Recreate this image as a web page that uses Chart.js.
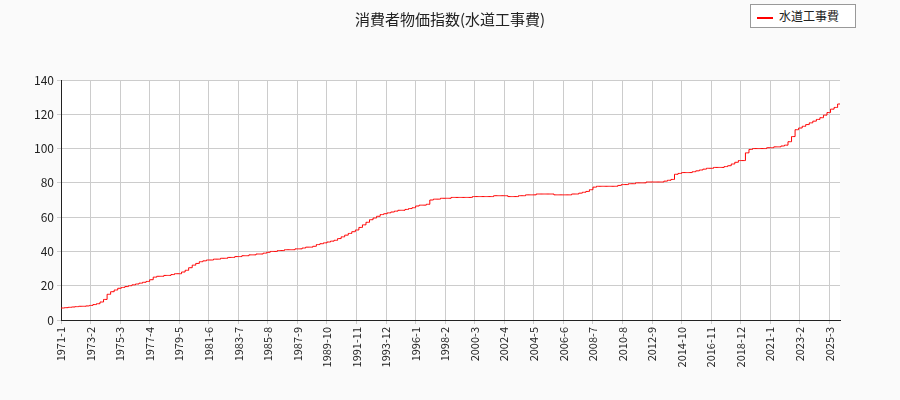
<!DOCTYPE html>
<html>
<head>
<meta charset="utf-8">
<script src="https://cdn.jsdelivr.net/npm/chart.js@4"></script>
<style>
  body { margin: 0; background: #fafafa; font-family: "Noto Sans CJK JP", sans-serif; }
  #wrap { position: relative; width: 900px; height: 400px; }
  #title { position: absolute; top: 8px; left: 0; width: 900px; text-align: center; font-size: 15px; color: #222; }
  #legend { position: absolute; top: 4px; left: 750px; width: 104px; height: 22px; border: 1px solid #999; background: #fff;
            font-size: 12px; line-height: 22px; color: #222; }
  #legend span { display: inline-block; width: 16px; height: 2px; background: red; vertical-align: middle; margin: 0 6px 0 6px; }
</style>
</head>
<body>
<div id="wrap">
  <canvas id="c" width="900" height="400"></canvas>
  <div id="title">消費者物価指数(水道工事費)</div>
  <div id="legend"><span></span>水道工事費</div>
</div>
<script>
const seriesName = '水道工事費';
const startYear = 1971;
// 四半期ごとの値 (1971 Q1 - 2025 Q4)
const quarterly = [
  7,7.2,7.4,7.6, 7.8,8,8,8.2, 8.5,9,9.5,10.5, 12,15,16.5,17.5, 18.5,19,19.5,20,
  20.5,21,21.5,22, 22.5,23.5,25,25.5, 25.5,26,26,26.5, 27,27,28,29, 30.5,32,33,34,
  34.5,35,35,35.5, 35.5,36,36,36.5, 36.5,37,37,37.5, 37.5,38,38,38.5, 38.5,39,39.5,40,
  40,40.5,40.5,41, 41,41,41.5,41.5, 42,42.5,42.5,43, 44,44.5,45,45.5, 46,46.5,47.5,48.5,
  49.5,50.5,51.5,52.5, 54,55.5,57,58.5, 59.5,60.5,61.5,62, 62.5,63,63.5,64, 64,64.5,65,65.5,
  66.5,67,67,67.5, 70,70.5,70.5,71, 71,71,71.5,71.5, 71.5,71.5,71.5,71.5, 72,72,72,72,
  72,72,72.5,72.5, 72.5,72.5,72,72, 72,72.5,72.5,73, 73,73,73.5,73.5, 73.5,73.5,73.5,73,
  73,73,73,73, 73.5,73.5,74,74.5, 75,76,77.5,78, 78,78,78,78, 78,78.5,79,79,
  79.5,79.5,80,80, 80,80.5,80.5,80.5, 80.5,80.5,81,81.5, 82,85,85.5,86, 86,86,86.5,87,
  87.5,88,88.5,88.5, 89,89,89,89.5, 90,91,92,93, 93,97.5,99.5,100, 100,100,100,100.5,
  100.5,101,101,101.5, 102,104,107,111, 112,113,114,115, 116,117,118,119.5, 121,123,124,126
];
const yTicks = [0, 20, 40, 60, 80, 100, 120, 140];

// 月次ラベルと値 (四半期の値を3か月保持)
const labels = [];
const values = [];
quarterly.forEach((v, q) => {
  for (let k = 0; k < 3; k++) {
    const m = q * 3 + k;
    labels.push(`${startYear + Math.floor(m / 12)}-${(m % 12) + 1}`);
    values.push(v);
  }
});

new Chart(document.getElementById('c'), {
  type: 'line',
  data: {
    labels: labels,
    datasets: [{
      label: seriesName,
      data: values,
      borderColor: 'red',
      borderWidth: 1,
      pointRadius: 0,
      stepped: true,
    }],
  },
  options: {
    responsive: false,
    animation: false,
    layout: { padding: { left: 20, top: 80, right: 60, bottom: 0 } },
    plugins: { legend: { display: false }, title: { display: false }, tooltip: { enabled: false } },
    scales: {
      x: {
        offset: false,
        afterFit: (s) => { s.height = 80; },
        grid: { color: '#ccc', drawTicks: true, tickLength: 4 },
        ticks: {
          autoSkip: false,
          maxRotation: 90, minRotation: 90,
          color: '#222',
          font: { family: 'Noto Sans CJK JP', size: 11 },
          callback: (v, i) => (i % 25 === 0 ? labels[i] : null),
        },
        border: { color: '#222' },
      },
      y: {
        min: 0, max: 140,
        afterFit: (s) => { s.width = 41; },
        afterBuildTicks: (s) => { s.ticks = yTicks.map(v => ({ value: v })); },
        grid: { color: '#ccc', tickLength: 4 },
        ticks: { color: '#222', font: { family: 'Noto Sans CJK JP', size: 12 } },
        border: { color: '#222' },
      },
    },
  },
  plugins: [{
    id: 'bg',
    beforeDraw: (chart) => {
      const { ctx, chartArea: a } = chart;
      ctx.save();
      ctx.fillStyle = '#fff';
      ctx.fillRect(a.left, a.top, a.right - a.left, a.bottom - a.top);
      ctx.restore();
    },
  }],
});
</script>
</body>
</html>
